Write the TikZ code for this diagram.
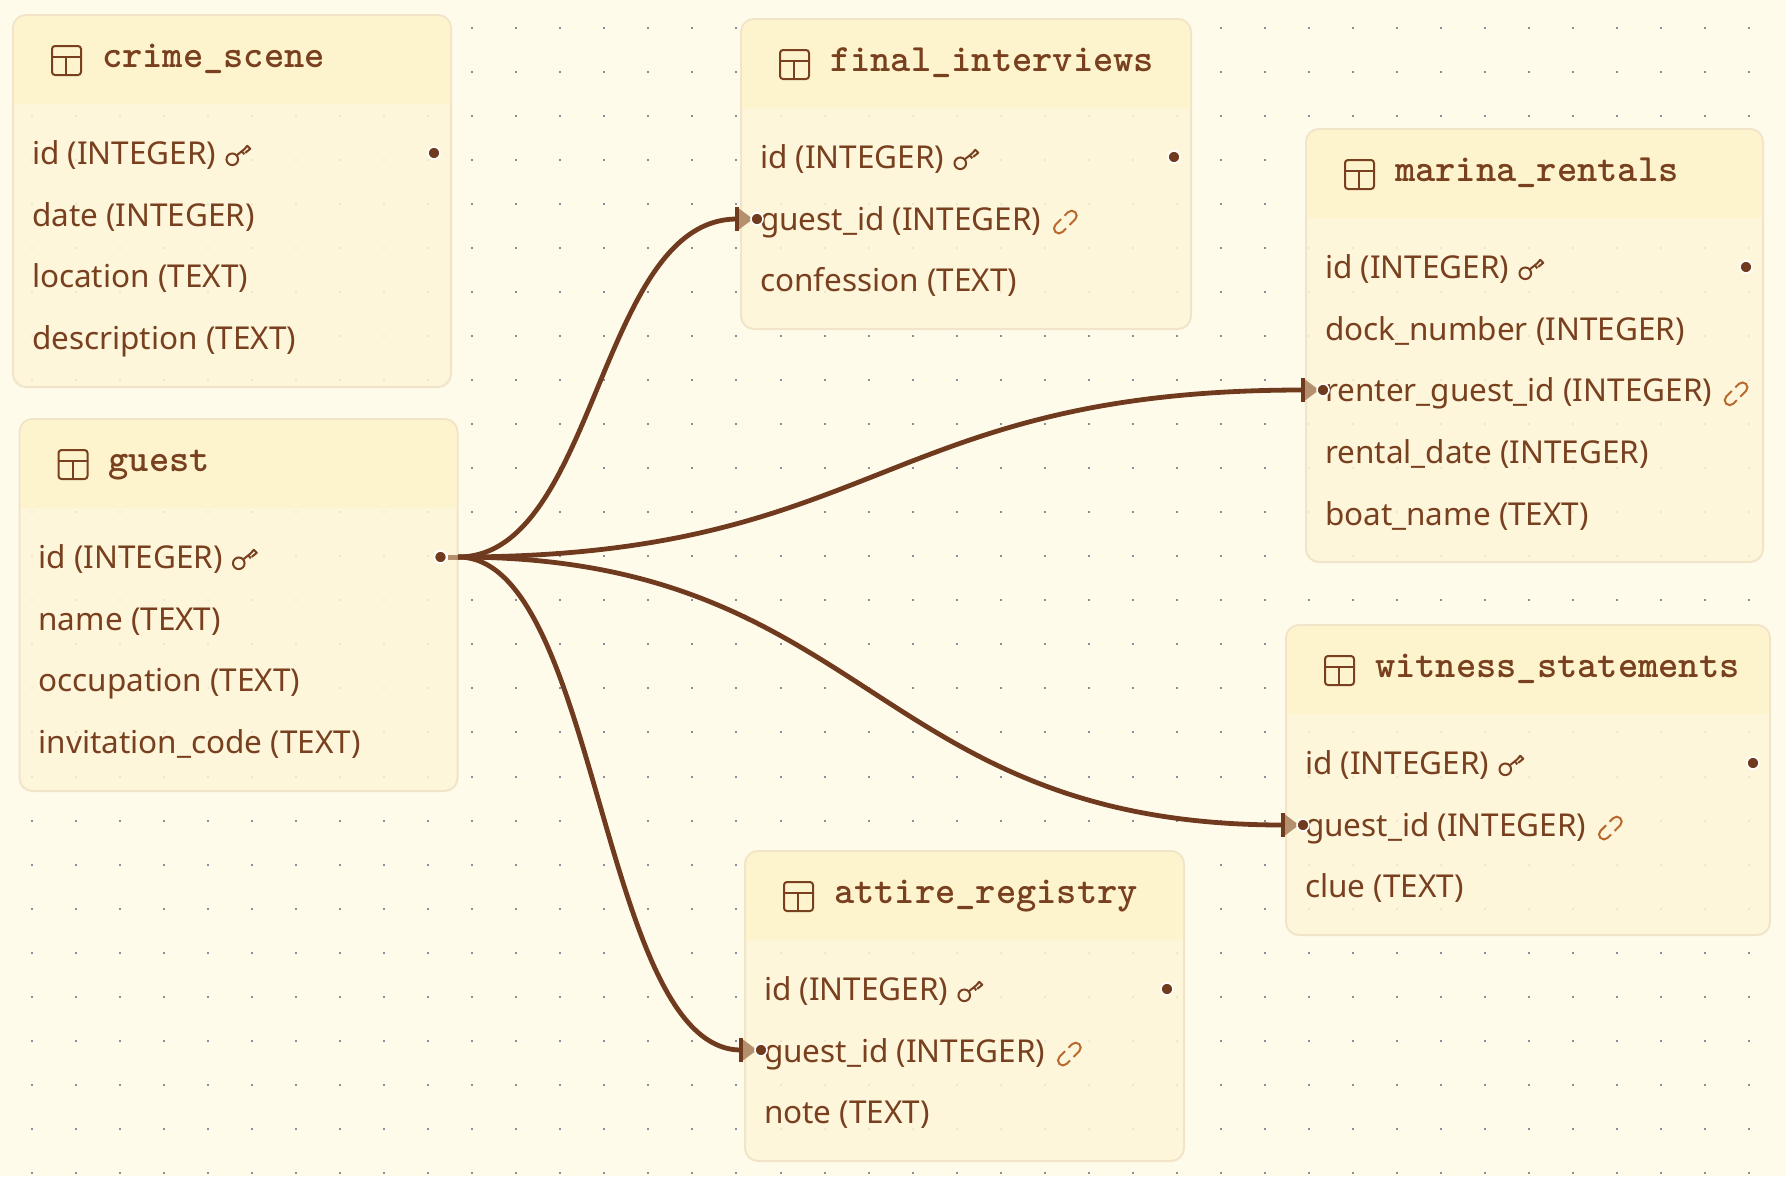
\documentclass[tikz,border=0pt]{standalone}
\usepackage{fontspec}
\setmainfont{Noto Sans}
\definecolor{pagebg}{HTML}{FFFBEB}
\definecolor{bodyfill}{HTML}{FEF6D9}
\definecolor{headfill}{HTML}{FDF3CD}
\definecolor{edgeline}{HTML}{F1E4C9}
\definecolor{ink}{HTML}{78401F}
\definecolor{wire}{HTML}{703A1E}
\definecolor{tipfill}{HTML}{B4906F}
\definecolor{griddot}{HTML}{8C8C9C}
\definecolor{linkink}{HTML}{B8692E}
\tikzset{
  x=1pt,y=-1pt,
  panel/.style={draw=edgeline,line width=2pt,fill=bodyfill,fill opacity=.86,rounded corners=13pt,anchor=north west,inner sep=0pt,outer sep=0pt},
  rowtext/.style={anchor=base west,inner sep=0pt,outer sep=0pt,text=ink,font=\fontsize{31.5}{36}\selectfont},
  titletext/.style={anchor=base west,inner sep=0pt,outer sep=0pt,text=ink,font=\ttfamily\bfseries\fontsize{38.6}{42}\selectfont},
  wireline/.style={draw=wire,line width=4.8pt},
  handle/.style={circle,fill=wire,draw=white,line width=1.6pt,minimum size=12pt,inner sep=0pt},
  keyicon/.pic={
    \draw[ink,line width=2pt] (16,-5) circle (5.8);
    \draw[ink,line width=2pt,line join=round] (20.5,-9) -- (28,-15) -- (31,-18.5) -- (34,-15.5) -- (29,-11.5) (25.5,-13) -- (28,-10);
  },
  linkicon/.pic={
    \begin{scope}[shift={(24,-8)},rotate=45]
      \draw[linkink,line width=2pt,rounded corners=5pt] (-1,-5) -- (-14,-5) -- (-14,5) -- (-4,5);
      \draw[linkink,line width=2pt,rounded corners=5pt] (1,5) -- (14,5) -- (14,-5) -- (4,-5);
    \end{scope}
  },
  tableicon/.pic={
    \draw[ink,line width=2pt,rounded corners=3pt] (39,31) rectangle (68,60);
    \draw[ink,line width=2pt] (39,41.5) -- (68,41.5) (53,41.5) -- (53,60);
  },
}
% name, x, y, width, height, header height, title
\newcommand{\tablepanel}[8]{%
  \begin{scope}[shift={(#2,#3)}]
    \node[panel,minimum width=#4pt,minimum height=#5pt] (#1) at (0,0) {};
    \fill[headfill] (1,#6) [rounded corners=12pt] -- (1,1) -- ({#4-1},1) [sharp corners] -- ({#4-1},#6) -- cycle;
    \pic at (0,0) {tableicon};
    \node[titletext] (#1-title) at (89,52) {#7};
    \foreach \t [count=\i from 0] in {#8} {
      \node[rowtext] (#1-\i) at (19,{149.3+61.75*\i}) {\t};
    }
    \node[handle] (#1-pk) at ({#4-17},138) {};
  \end{scope}
  \pic at (#1-0.base east) {keyicon};
}
\begin{document}
\begin{tikzpicture}
\useasboundingbox (0,0) rectangle (1786,1176);
\fill[pagebg] (0,0) rectangle (1786,1176);
\foreach \i in {0,...,40}{\foreach \j in {0,...,26}{
  \fill[griddot] ({32+44.03*\i-1},{28+44.03*\j-1}) rectangle ++(2,2);
}}
\tablepanel{crime}{13}{15}{438}{372}{89}{crime\_scene}{id (INTEGER),date (INTEGER),location (TEXT),description (TEXT)}
\tablepanel{guest}{19.5}{419}{438}{372}{89}{guest}{id (INTEGER),name (TEXT),occupation (TEXT),invitation\_code (TEXT)}
\tablepanel{final}{741}{19}{450}{310}{89}{final\_interviews}{id (INTEGER),guest\_id (INTEGER),confession (TEXT)}
\tablepanel{marina}{1306}{129}{457}{433}{89}{marina\_rentals}{id (INTEGER),dock\_number (INTEGER),renter\_guest\_id (INTEGER),rental\_date (INTEGER),boat\_name (TEXT)}
\tablepanel{witness}{1286}{625}{484}{310}{89}{witness\_statements}{id (INTEGER),guest\_id (INTEGER),clue (TEXT)}
\tablepanel{attire}{745}{851}{439}{310}{89}{attire\_registry}{id (INTEGER),guest\_id (INTEGER),note (TEXT)}
\pic at (final-1.base east) {linkicon};
\pic at (marina-2.base east) {linkicon};
\pic at (witness-1.base east) {linkicon};
\pic at (attire-1.base east) {linkicon};
% connector ends
\coordinate (src) at (458,557);
\coordinate (finalend) at (737,219);
\coordinate (marinaend) at (1303,390);
\coordinate (witnessend) at (1283,825);
\coordinate (attireend) at (741,1050);
\fill[tipfill] (448,554.5) rectangle (460,559.5);
\draw[wireline] (src) .. controls +(139,0) and +(-139,0) .. (finalend);
\draw[wireline] (src) .. controls +(422,0) and +(-422,0) .. (marinaend);
\draw[wireline] (src) .. controls +(412,0) and +(-412,0) .. (witnessend);
\draw[wireline] (src) .. controls +(141,0) and +(-141,0) .. (attireend);
\foreach \e in {finalend,marinaend,witnessend,attireend}{
  \fill[tipfill] ([yshift=-12pt]\e) -- ([xshift=16pt]\e) -- ([yshift=12pt]\e) -- cycle;
  \fill[wire] ([xshift=-2pt,yshift=-12pt]\e) rectangle ([xshift=2pt,yshift=12pt]\e);
  \node[handle] at ([xshift=20pt]\e) {};
}
\node[handle] (guestout) at (guest-pk) {};
\end{tikzpicture}
\end{document}
